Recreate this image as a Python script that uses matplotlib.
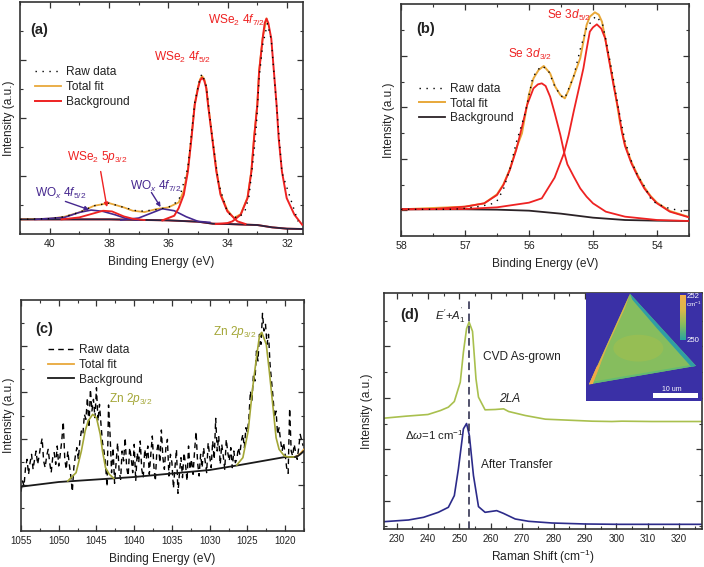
#!/usr/bin/env python
# -*- coding: utf-8 -*-
"""
Four panel figure: XPS spectra (a, b, c) and Raman spectra with map inset (d).
Intensities are in arbitrary units, as on the original (no y tick labels).
"""

# Imports ===========================================
import numpy as np
import matplotlib
matplotlib.use('Agg')
import matplotlib.pyplot as plt
from matplotlib.colors import LinearSegmentedColormap
from matplotlib.patches import Polygon, Ellipse, Rectangle
from matplotlib.ticker import FixedLocator, MultipleLocator

plt.rcParams['font.family'] = ['Liberation Sans', 'DejaVu Sans']
plt.rcParams['mathtext.fontset'] = 'custom'
plt.rcParams['mathtext.rm'] = 'Liberation Sans'
plt.rcParams['mathtext.it'] = 'Liberation Sans:italic'
plt.rcParams['mathtext.bf'] = 'Liberation Sans:bold'

# Data ==============================================
# Panel (a)
a_bg_x = [41, 40, 38, 36, 35, 34.5, 34, 33, 32.5, 32, 31.46]
a_bg_y = [44, 44, 44, 41, 37, 31, 30, 27, 20, 16, 15]
a_p1_x = [34.4, 34.0, 33.84, 33.56, 33.33, 33.2, 33.11, 33.0, 32.94, 32.82, 32.75, 32.69, 32.63, 32.53, 32.44, 32.35, 32.28, 32.17, 32.01, 31.75, 31.49]
a_p1_y = [30, 33, 38, 58, 108, 188, 288, 388, 488, 588, 635, 648, 635, 588, 488, 388, 288, 188, 108, 58, 28]
a_p2_x = [36.2, 35.8, 35.65, 35.48, 35.34, 35.22, 35.11, 35.0, 34.93, 34.86, 34.79, 34.72, 34.66, 34.52, 34.38, 34.24, 34.01, 33.67, 33.4]
a_p2_y = [41, 55, 78, 118, 188, 288, 388, 438, 462, 470, 462, 438, 388, 288, 188, 118, 68, 38, 30]
a_p3_x = [39.6, 39.0, 38.6, 38.2, 37.9, 37.5, 37.2, 36.8]
a_p3_y = [44, 50, 60, 70, 68, 53, 46, 42]
a_wo1_x = [40.5, 39.5, 39.0, 38.6, 38.2, 37.8, 37.4, 37.0]
a_wo1_y = [44, 50, 65, 72, 68, 58, 46, 42]
a_wo2_x = [37.6, 37.0, 36.6, 36.2, 35.8, 35.4, 35.0, 34.6]
a_wo2_y = [42, 48, 62, 76, 70, 52, 38, 35]
a_tot_x = [41, 40, 39.5, 39, 38.5, 38, 37.5, 37.2, 36.8, 36.4, 36, 35.65, 35.48, 35.34, 35.22, 35.11, 35.0, 34.93, 34.86, 34.79, 34.72, 34.66, 34.52, 34.38, 34.24, 34.01, 33.79, 33.56, 33.33, 33.2, 33.11, 33.0, 32.94, 32.82, 32.69]
a_tot_y = [44, 46, 52, 65, 85, 93, 80, 70, 66, 75, 80, 95, 130, 195, 292, 392, 442, 466, 475, 466, 442, 392, 292, 192, 122, 72, 48, 60, 110, 190, 290, 390, 490, 590, 648]
a_raw_x = [41, 40, 39.5, 39, 38.5, 38, 37.5, 37, 36.5, 36, 35.65, 35.34, 35.11, 34.93, 34.86, 34.72, 34.52, 34.3, 34.01, 33.84, 33.64, 33.42, 33.28, 33.11, 33.03, 32.94, 32.82, 32.66, 32.53, 32.35, 32.17, 31.63]
a_raw_y = [44, 46, 52, 65, 85, 93, 80, 68, 72, 80, 100, 200, 395, 470, 482, 445, 290, 150, 66, 53, 48, 68, 113, 248, 328, 468, 568, 633, 585, 385, 185, 38]

# Panel (b)
b_bg_x = [58, 57, 56.5, 56, 55.5, 55, 54.5, 54, 53.5]
b_bg_y = [80, 80, 79, 76, 67, 55, 48, 46, 45]
b_p1_x = [58, 57.5, 57, 56.7, 56.5, 56.4, 56.3, 56.2, 56.1, 56.03, 55.93, 55.86, 55.8, 55.74, 55.67, 55.6, 55.51, 55.45, 55.4, 55.3, 55.2, 55.1, 55.0, 54.8, 54.5, 54, 53.5]
b_p1_y = [80, 81, 88, 98, 123, 153, 198, 258, 335, 393, 443, 455, 458, 450, 418, 370, 303, 250, 215, 178, 143, 118, 98, 73, 58, 48, 45]
b_p2_x = [58, 57, 56.5, 56, 55.8, 55.6, 55.45, 55.38, 55.3, 55.2, 55.15, 55.1, 55.05, 55.0, 54.94, 54.87, 54.81, 54.68, 54.6, 54.55, 54.5, 54.4, 54.3, 54.2, 54.1, 54, 53.8, 53.5]
b_p2_y = [80, 81, 86, 100, 113, 175, 250, 303, 375, 460, 503, 560, 613, 626, 635, 622, 593, 453, 375, 313, 270, 218, 178, 143, 118, 98, 73, 56]
b_tot_x = [58, 57, 56.7, 56.5, 56.4, 56.3, 56.2, 56.11, 56.0, 55.93, 55.85, 55.77, 55.67, 55.59, 55.51, 55.44, 55.38, 55.3, 55.2, 55.1, 55.05, 54.97, 54.91, 54.86, 54.76, 54.68, 54.58, 54.5, 54.4, 54.3, 54.2, 54.1, 54, 53.8, 53.5]
b_tot_y = [80, 88, 98, 125, 155, 200, 262, 308, 425, 473, 498, 510, 488, 448, 423, 413, 438, 480, 533, 633, 658, 671, 664, 643, 543, 460, 343, 275, 222, 182, 147, 120, 100, 75, 57]
b_raw_x = [58, 57.2, 57, 56.8, 56.6, 56.5, 56.4, 56.3, 56.2, 56.06, 55.95, 55.89, 55.8, 55.7, 55.6, 55.5, 55.44, 55.3, 55.2, 55.1, 55, 54.95, 54.85, 54.8, 54.7, 54.6, 54.5, 54.4, 54.3, 54.2, 54.08, 53.87, 53.69, 53.53]
b_raw_y = [80, 80, 83, 88, 95, 105, 140, 200, 280, 368, 468, 493, 510, 498, 450, 420, 413, 480, 560, 625, 650, 660, 635, 590, 490, 380, 285, 225, 180, 150, 105, 86, 78, 71]

# Panel (c)
c_bg_x = [1055, 1050, 1040, 1030, 1026, 1020, 1018.5, 1018, 1017.5]
c_bg_y = [133, 147, 162, 183, 198, 222, 222, 230, 240]
c_p1_x = [1048.8, 1047.7, 1047, 1046.5, 1046.1, 1045.5, 1045.0, 1044.5, 1044.2, 1043.8, 1043.3, 1042.7]
c_p1_y = [150, 175, 240, 300, 330, 350, 340, 290, 240, 190, 170, 158]
c_p2_x = [1026.4, 1025.6, 1024.9, 1024.3, 1023.8, 1023.4, 1023.1, 1022.5, 1022.1, 1021.6, 1021.2, 1020.8, 1020.1, 1019.5, 1018.9]
c_p2_y = [198, 220, 300, 430, 520, 585, 596, 560, 480, 370, 280, 245, 225, 222, 222]
c_tot_x = [1019.0, 1018.5, 1018, 1017.5]
c_tot_y = [222, 223, 232, 245]
c_raw_y = [118, 150, 135, 190, 215, 170, 205, 230, 185, 215, 240, 200, 225, 255, 278, 210, 190, 225, 245, 205, 175, 220, 235, 200, 255, 195, 230, 270, 328, 215, 185, 240,
           200, 165, 118, 190, 225, 250, 215, 270, 300,
           290, 350, 335, 400, 310, 425, 360, 395, 340, 430, 330, 380, 320, 265, 240,
           200, 133, 378, 290, 175, 250, 143,
           205, 265, 180, 155, 240, 210, 280, 190, 165, 250, 220, 175, 260, 150, 235, 205, 270, 185, 160, 245, 215, 255, 170, 230, 285, 195, 150, 240, 265, 205,
           303, 220, 185, 250, 275, 165, 230, 205, 128, 190, 245, 113, 175, 220, 160, 235, 200, 150, 255, 185, 215, 170, 240, 298, 205,
           165, 230, 190, 250, 210, 175, 265, 225, 190, 270, 215, 338, 240, 285, 200, 260, 225, 185, 275, 235, 210, 250, 190, 240, 205,
           215, 250, 230, 270, 290, 250, 310, 295, 340, 420, 390, 470, 450, 540, 510, 590, 560, 653, 600, 620, 560, 590, 500, 450, 400, 340, 360, 290, 310, 270,
           240, 265, 230, 190, 173, 368, 240, 225, 260, 235, 215, 250, 290, 270, 255]

# Panel (d)
d_cvd_x = [226, 233, 240, 244, 246.5, 248.4, 250.3, 251.3, 252.3, 253.1, 254.2, 255.3, 256.1, 257.2, 258.2, 261.4, 264.1, 265.7, 271, 277.4, 284.8, 292.3, 298.6, 301.8, 311.4, 327.3]
d_cvd_y = [332, 338, 343, 355, 365, 382, 440, 530, 600, 620, 592, 450, 395, 375, 357, 358, 360, 352, 340, 329, 326, 323, 322, 323, 322, 322]
d_tr_x = [226, 233.8, 238.6, 243.3, 246.5, 248.4, 249.7, 251.3, 252.3, 253.2, 254.5, 256.1, 258.2, 261.9, 264, 267.8, 272.1, 279.5, 290.1, 300.7, 327.3]
d_tr_y = [22, 27, 35, 50, 65, 100, 180, 300, 316, 280, 160, 67, 50, 55, 47, 30, 23, 18, 15, 14, 14]
d_line_x = 253.1

# Inset map outline, image coordinates
tri_xy = [(150, 27), (348, 243), (27, 298)]
left_edge_xy = [(150, 27), (27, 298), (38, 297), (80, 190), (135, 70)]
left_tip_xy = [(27, 298), (38, 297), (62, 235), (50, 245)]
right_edge_xy = [(150, 27), (348, 243), (334, 246), (230, 130), (157, 45)]
bottom_edge_xy = [(27, 298), (348, 243), (334, 240), (40, 290)]
centre_xy = (175, 190)
cbar_ends = [0, 1]

# Colours
RED = '#ee2222'
ORANGE = '#e8a83a'
PURPLE = '#46288f'
OLIVE = '#a3a636'
GREEN = '#a9c04e'
NAVY = '#2c2b8a'
SPINE = '#333333'
TEXT = '#222222'

# Functions =========================================
W, H = 704, 567
DPI = 100

def make_axes(left, right, top, bottom):
    # pixel box to figure axes
    ax = fig.add_axes([left/W, 1-bottom/H, (right-left)/W, (bottom-top)/H])
    for s in ax.spines.values():
        s.set_linewidth(1.2)
        s.set_color(SPINE)
    return ax

def style_axes(ax, xmajor, xminor, ymajor, yminor, xlabel, lab_px, xsize):
    ax.xaxis.set_major_locator(MultipleLocator(xmajor))
    ax.xaxis.set_minor_locator(MultipleLocator(xminor))
    ax.yaxis.set_major_locator(FixedLocator(ymajor))
    ax.yaxis.set_minor_locator(FixedLocator(yminor))
    ax.set_yticklabels([])
    ax.tick_params(which='major', direction='in', length=4.5, width=0.9, top=True, right=True,
                   color=SPINE, labelsize=xsize, pad=3.5, labelcolor=TEXT)
    ax.tick_params(which='minor', direction='in', length=2.5, width=0.8, top=True, right=True, color=SPINE)
    ax.set_xlabel(xlabel, fontsize=8.6, color=TEXT)
    ax.set_ylabel('Intensity (a.u.)', fontsize=8.6, color=TEXT)
    box = ax.get_position()
    ax.yaxis.set_label_coords(-lab_px/(box.width*W), 0.5)
    ax.xaxis.set_label_coords(0.5, -28/(box.height*H), transform=ax.transAxes)
    ax.xaxis.label.set_verticalalignment('center')
    ax.yaxis.label.set_verticalalignment('center')

def add_legend(ax, anchor):
    ax.legend(loc='upper left', bbox_to_anchor=anchor, frameon=False, fontsize=8.6,
              handlelength=2.2, handletextpad=0.4, labelspacing=0.22, borderpad=0, borderaxespad=0,
              labelcolor=TEXT)

DOTS = (0, (1, 4))

# Program ===========================================
fig = plt.figure(figsize=(W/DPI, H/DPI), dpi=DPI)

# (a) ---------------------------------------------
ax = make_axes(20, 303, 2, 234)
ax.plot(a_raw_x, a_raw_y, ls=DOTS, color='black', lw=1.0, label='Raw data', zorder=5)
ax.plot(a_tot_x, a_tot_y, color=ORANGE, lw=1.3, label='Total fit', zorder=2)
ax.plot(a_bg_x, a_bg_y, color=RED, lw=1.4, label='Background', zorder=1)
ax.plot(a_bg_x, a_bg_y, color='#2a2340', lw=1.3, zorder=3)
ax.plot(a_wo1_x, a_wo1_y, color=PURPLE, lw=1.2, zorder=3)
ax.plot(a_wo2_x, a_wo2_y, color=PURPLE, lw=1.2, zorder=3)
ax.plot(a_p3_x, a_p3_y, color=RED, lw=1.3, zorder=4)
ax.plot(a_p2_x, a_p2_y, color=RED, lw=1.4, zorder=4)
ax.plot(a_p1_x, a_p1_y, color=RED, lw=1.4, zorder=4)
ax.set_xlim(41.0, 31.46)
ax.set_ylim(0, 698)
style_axes(ax, 2, 1, [174, 349, 523], [87, 261, 436, 610], 'Binding Energy (eV)', 11, 7.6)
add_legend(ax, (0.053, 0.722))
ax.text(40.65, 615, '(a)', fontsize=10.5, fontweight='bold', va='center', color=TEXT)
ax.text(34.66, 641, r'WSe$_2$ $\mathit{4f}_{7/2}$', fontsize=8.6, color=RED, va='center')
ax.text(36.48, 531, r'WSe$_2$ $\mathit{4f}_{5/2}$', fontsize=8.6, color=RED, va='center')
ax.text(39.4, 231, r'WSe$_2$ $\mathit{5p}_{3/2}$', fontsize=8.6, color=RED, va='center')
ax.text(40.48, 121, r'WO$_x$ $\mathit{4f}_{5/2}$', fontsize=8.6, color=PURPLE, va='center')
ax.text(37.28, 143, r'WO$_x$ $\mathit{4f}_{7/2}$', fontsize=8.6, color=PURPLE, va='center')
ax.annotate('', xy=(38.07, 81), xytext=(38.28, 188), zorder=6,
            arrowprops=dict(arrowstyle='-|>', color=RED, lw=1.0, mutation_scale=6, shrinkA=0, shrinkB=0))
ax.annotate('', xy=(38.67, 73), xytext=(39.47, 98), zorder=6,
            arrowprops=dict(arrowstyle='-|>', color=PURPLE, lw=1.0, mutation_scale=6, shrinkA=0, shrinkB=0))
ax.annotate('', xy=(36.26, 81), xytext=(36.57, 125), zorder=6,
            arrowprops=dict(arrowstyle='-|>', color=PURPLE, lw=1.0, mutation_scale=6, shrinkA=0, shrinkB=0))

# (b) ---------------------------------------------
ax = make_axes(401, 689, 4, 236)
ax.plot(b_raw_x, b_raw_y, ls=DOTS, color='black', lw=1.0, label='Raw data', zorder=5)
ax.plot(b_tot_x, b_tot_y, color=ORANGE, lw=1.4, label='Total fit', zorder=2)
ax.plot(b_bg_x, b_bg_y, color='#2b2226', lw=1.3, label='Background', zorder=3)
ax.plot(b_p1_x, b_p1_y, color=RED, lw=1.3, zorder=4)
ax.plot(b_p2_x, b_p2_y, color=RED, lw=1.3, zorder=4)
ax.set_xlim(58, 53.5)
ax.set_ylim(0, 696)
style_axes(ax, 1, 0.5, [77, 231, 386, 540], [154, 308, 463, 617], 'Binding Energy (eV)', 12, 7.6)
add_legend(ax, (0.0625, 0.66))
ax.text(57.76, 620, '(b)', fontsize=10.5, fontweight='bold', va='center', color=TEXT)
ax.text(55.72, 661, r'Se $\mathit{3d}_{5/2}$', fontsize=8.6, color=RED, va='center')
ax.text(56.33, 545, r'Se $\mathit{3d}_{3/2}$', fontsize=8.6, color=RED, va='center')

# (c) ---------------------------------------------
ax = make_axes(21, 304, 300, 531)
c_raw_x = np.linspace(1055, 1017.6, len(c_raw_y))
ax.plot(c_raw_x, c_raw_y, ls=(0, (4, 3)), color='black', lw=1.0, label='Raw data', zorder=2)
ax.plot(c_tot_x, c_tot_y, color=ORANGE, lw=1.3, label='Total fit', zorder=3)
ax.plot(c_bg_x, c_bg_y, color='#1a1a1a', lw=1.3, label='Background', zorder=4)
ax.plot(c_p1_x, c_p1_y, color=OLIVE, lw=1.2, zorder=5)
ax.plot(c_p2_x, c_p2_y, color=OLIVE, lw=1.2, zorder=5)
ax.set_xlim(1055, 1017.5)
ax.set_ylim(0, 693)
style_axes(ax, 5, 2.5, [139, 277, 416, 554], [70, 208, 346, 485, 623], 'Binding Energy (eV)', 12, 7.0)
add_legend(ax, (0.095, 0.808))
ax.text(1053.05, 606, '(c)', fontsize=10.5, fontweight='bold', va='center', color=TEXT)
ax.text(1029.6, 598, r'Zn $\mathit{2p}_{3/2}$', fontsize=8.6, color=OLIVE, va='center')
ax.text(1043.3, 395, r'Zn $\mathit{2p}_{3/2}$', fontsize=8.6, color=OLIVE, va='center')

# (d) ---------------------------------------------
ax = make_axes(384, 702, 293, 529)
ax.plot(d_cvd_x, d_cvd_y, color=GREEN, lw=1.2)
ax.plot(d_tr_x, d_tr_y, color=NAVY, lw=1.2)
ax.axvline(d_line_x, color='#222244', lw=1.1, ls=(0, (5, 3)), ymax=0.97)
ax.set_xlim(226, 327.3)
ax.set_ylim(0, 707)
style_axes(ax, 10, 5, [85, 239, 393, 547], [8, 162, 316, 470, 624], r'Raman Shift (cm$^{-1}$)', 17, 7.0)
ax.text(231.3, 640, '(d)', fontsize=10.5, fontweight='bold', va='center', color=TEXT)
ax.text(242.3, 637, r"$\mathit{E}'$+$\mathit{A}_{1}^{'}$", fontsize=8.2, va='center', color=TEXT)
ax.text(257.4, 515, 'CVD As-grown', fontsize=8.6, va='center', color=TEXT)
ax.text(262.8, 390, '2LA', fontsize=8.6, style='italic', va='center', color=TEXT)
ax.text(232.7, 282, r'$\Delta\omega$=1 cm$^{-1}$', fontsize=8.2, va='center', color=TEXT)
ax.text(257, 192, 'After Transfer', fontsize=8.6, va='center', color=TEXT)

# Inset map of the peak position
ins = fig.add_axes([586/W, 1-401/H, 116/W, 108/H])
ins.set_xticks([])
ins.set_yticks([])
ins.set_facecolor('#3a30a6')
for s in ins.spines.values():
    s.set_visible(False)
ins.add_patch(Polygon(tri_xy, closed=True, facecolor='#86bd5e', edgecolor='none'))
ins.add_patch(Ellipse(centre_xy, 150, 80, facecolor='#a2bf4e', edgecolor='none', alpha=0.6))
ins.add_patch(Polygon(bottom_edge_xy, closed=True, facecolor='#62bb74', edgecolor='none'))
ins.add_patch(Polygon(left_edge_xy, closed=True, facecolor='#d9b44a', edgecolor='none'))
ins.add_patch(Polygon(left_tip_xy, closed=True, facecolor='#f0a848', edgecolor='none'))
ins.add_patch(Polygon(right_edge_xy, closed=True, facecolor='#2f9fa4', edgecolor='none'))
cbar_map = LinearSegmentedColormap.from_list('map', ['#f2b04c', '#d8b84a', '#86bd5e', '#2aa6a0'])
ins.imshow(np.linspace(cbar_ends[0], cbar_ends[1], 40).reshape(-1, 1), extent=(300, 316, 165, 33),
           aspect='auto', cmap=cbar_map, zorder=3)
ins.set_xlim(18, 366)
ins.set_ylim(348, 25)
ins.add_patch(Rectangle((218, 325), 135, 13, facecolor='white', edgecolor='none'))
ins.text(319, 36, '252', color='white', fontsize=5.6, va='center')
ins.text(319, 60, r'cm$^{-1}$', color='white', fontsize=4.6, va='center')
ins.text(319, 168, '250', color='white', fontsize=5.6, va='center')
ins.text(275, 313, '10 um', color='white', fontsize=5, va='center', ha='center')

# Save ==============================================
fig.savefig('out.png', dpi=DPI)
